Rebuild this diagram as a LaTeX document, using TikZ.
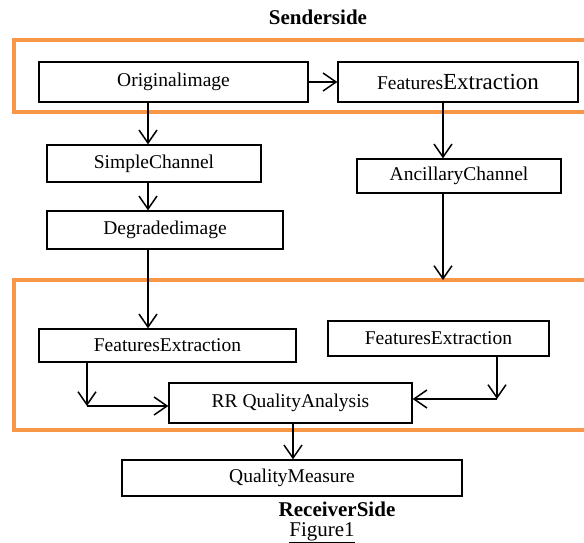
\documentclass[tikz,border=0pt]{standalone}
\usepackage{fontspec}
\setmainfont{Liberation Serif}
\usetikzlibrary{arrows.meta}
\definecolor{sideorange}{RGB}{247,150,70}
\begin{document}
\begin{tikzpicture}
[x=1pt,y=-1pt,
 blk/.style={draw,line width=1.3pt,inner sep=0pt,font=\fontsize{19.5}{22}\selectfont},
 arr/.style={line width=1.5pt,-{Straight Barb[length=13pt,width=18pt,line width=1.5pt]}},
 side/.style={draw=sideorange,line width=3.6pt},
 title/.style={inner sep=0pt,font=\fontsize{21}{24}\selectfont\bfseries}]
\clip (0,0) rectangle (584,543);

% sender and receiver frames
\draw[side] (14,40) rectangle (600,112);
\draw[side] (14,280) rectangle (600,430);

\node[title] (snd) at (318,17) {Senderside};
\node[title] (rcv) at (337,509) {ReceiverSide};
\node[inner sep=0pt,font=\fontsize{21}{24}\selectfont] (fig) at (322,533) {\underline{Figure1}};

\node[blk,minimum width=269pt,minimum height=40pt] (orig) at (173.5,82) {Originalimage};
\node[blk,minimum width=240pt,minimum height=40pt] (fetop) at (458,82)
 {Features{\fontsize{23}{26}\selectfont Extraction}};
\node[blk,minimum width=214pt,minimum height=37pt] (simple) at (154,163.5) {SimpleChannel};
\node[blk,minimum width=236pt,minimum height=38pt] (degr) at (165,230) {Degradedimage};
\node[blk,minimum width=204pt,minimum height=34pt] (ancil) at (459,176) {AncillaryChannel};
\node[blk,minimum width=257pt,minimum height=33pt] (feleft) at (167.5,345.5) {FeaturesExtraction};
\node[blk,minimum width=221pt,minimum height=35pt] (feright) at (438.5,338.5) {FeaturesExtraction};
\node[blk,minimum width=243pt,minimum height=40pt] (rrqa) at (290.5,403) {RR QualityAnalysis};
\node[blk,minimum width=340pt,minimum height=36pt] (qm) at (292,478) {QualityMeasure};

\coordinate (cl) at (148,0);
\coordinate (cr) at (443,0);
\coordinate (cq) at (293,0);
\coordinate (rcvtop) at (443,280);
\coordinate (bendl) at (87,406);
\coordinate (bendr) at (497,399);

\draw[arr] (orig) -- (fetop);
\draw[arr] (orig.south -| cl) -- (simple.north -| cl);
\draw[arr] (simple.south -| cl) -- (degr.north -| cl);
\draw[arr] (degr.south -| cl) -- (feleft.north -| cl);
\draw[arr] (fetop.south -| cr) -- (ancil.north -| cr);
\draw[arr] (ancil.south -| cr) -- (rcvtop);

\draw[arr] (feleft.south -| bendl) -- (bendl);
\draw[arr] (bendl) -- (rrqa.west |- bendl);
\draw[arr] (feright.south -| bendr) -- (bendr);
\draw[arr] (bendr) -- (rrqa.east |- bendr);
\draw[arr] (rrqa.south -| cq) -- (qm.north -| cq);
\end{tikzpicture}
\end{document}
